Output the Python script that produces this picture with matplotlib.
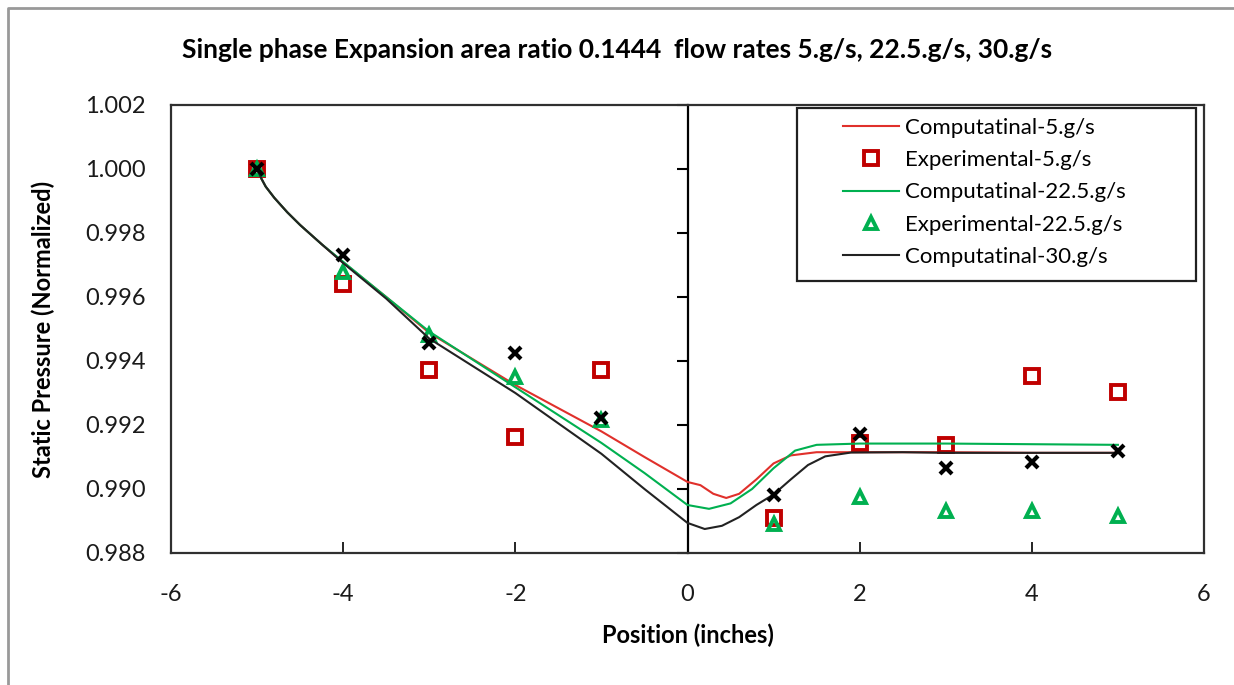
import matplotlib
matplotlib.use("Agg")
import matplotlib.pyplot as plt
from matplotlib.patches import Rectangle
from matplotlib.lines import Line2D

plt.rcParams['font.family'] = ['Lato', 'DejaVu Sans']

# experimental positions and values
exp_x = [-5, -4, -3, -2, -1, 1, 2, 3, 4, 5]
exp_5 = [1.0000, 0.99641, 0.99372, 0.99163, 0.99372, 0.98909, 0.99144, 0.99138, 0.99353, 0.99303]
exp_225 = [1.0000, 0.99678, 0.99481, 0.99350, 0.99216, 0.98890, 0.98975, 0.98931, 0.98931, 0.98916]
exp_30 = [1.0000, 0.99731, 0.99456, 0.99425, 0.99222, 0.98981, 0.99172, 0.99066, 0.99084, 0.99119]

# computational curves
comp5_x = [-5, -4.95, -4.9, -4.8, -4.65, -4.5, -4.25, -4, -3.5, -3, -2, -1, -0.5, 0, 0.15,
           0.3, 0.45, 0.6, 0.8, 1.0, 1.2, 1.5, 2, 3, 4, 5]
comp5_y = [1.0000, 0.99970, 0.99945, 0.99910, 0.99865, 0.99825, 0.99765, 0.99708, 0.99600,
           0.99488, 0.99325, 0.99180, 0.99100, 0.99022, 0.99012, 0.98985, 0.98972, 0.98985,
           0.99030, 0.99080, 0.99105, 0.99115, 0.99115, 0.99115, 0.99113, 0.99113]

comp225_x = [-5, -4.95, -4.9, -4.8, -4.65, -4.5, -4.25, -4, -3.5, -3, -2, -1, -0.5, 0, 0.25,
             0.5, 0.75, 1.0, 1.25, 1.5, 2, 3, 4, 5]
comp225_y = [1.0000, 0.99970, 0.99945, 0.99910, 0.99865, 0.99825, 0.99765, 0.99710, 0.99600,
             0.99492, 0.99318, 0.99144, 0.99050, 0.98950, 0.98938, 0.98955, 0.99000, 0.99065,
             0.99120, 0.99138, 0.99142, 0.99142, 0.99140, 0.99138]

comp30_x = [-5, -4.95, -4.9, -4.8, -4.65, -4.5, -4.25, -4, -3.5, -3, -2, -1, -0.5, 0, 0.2,
            0.4, 0.6, 0.8, 1.0, 1.2, 1.4, 1.6, 1.9, 2.5, 3, 4, 5]
comp30_y = [1.0000, 0.99970, 0.99945, 0.99910, 0.99865, 0.99825, 0.99765, 0.99706, 0.99595,
            0.99470, 0.99300, 0.99110, 0.99000, 0.98894, 0.98875, 0.98885, 0.98912, 0.98950,
            0.98983, 0.99030, 0.99075, 0.99102, 0.99114, 0.99115, 0.99113, 0.99113, 0.99113]

x_ticks = [-6, -4, -2, 0, 2, 4, 6]
y_ticks = [0.988, 0.990, 0.992, 0.994, 0.996, 0.998, 1.000, 1.002]

W, H = 1234, 685
fig = plt.figure(figsize=(W / 100, H / 100), dpi=100)
ax = fig.add_axes([171 / W, 1 - 553 / H, (1204 - 171) / W, (553 - 105) / H])

red_line = '#E0302B'
red_mk = '#C00000'
green = '#00B050'

ax.plot(comp5_x, comp5_y, color=red_line, lw=1.5, label='Computatinal-5.g/s', zorder=3)
ax.plot(exp_x, exp_5, ls='none', marker='s', ms=10.5, mfc='none', mec=red_mk, mew=2.8,
        label='Experimental-5.g/s', zorder=4)
ax.plot(comp225_x, comp225_y, color=green, lw=1.5, label='Computatinal-22.5.g/s', zorder=5)
ax.plot(exp_x, exp_225, ls='none', marker='^', ms=9, mfc='none', mec=green, mew=2.8,
        label='Experimental-22.5.g/s', zorder=6)
ax.plot(comp30_x, comp30_y, color='#222222', lw=1.5, label='Computatinal-30.g/s', zorder=7)
ax.plot(exp_x, exp_30, ls='none', marker='x', ms=9, mec='black', mew=3, zorder=8,
        label='_nolegend_')

ax.set_xlim(-6, 6)
ax.set_ylim(0.988, 1.002)
ax.set_xticks(x_ticks)
ax.set_xticklabels([str(t) for t in x_ticks])
ax.set_yticks(y_ticks)
ax.set_yticklabels(['%.3f' % t for t in y_ticks])
ax.tick_params(axis='x', direction='in', length=8, width=1.2, pad=22, labelsize=17,
               top=False, labelcolor='#1a1a1a')
ax.tick_params(axis='y', length=0, pad=18, labelsize=17, labelcolor='#1a1a1a')
for s in ax.spines.values():
    s.set_color('#303030')
    s.set_linewidth(1.6)

# vertical axis crossing at x = 0
sec = ax.secondary_yaxis(0.5)
sec.set_yticks(y_ticks)
sec.tick_params(direction='in', length=8, width=1.5, labelleft=False, labelright=False,
                color='black')
for s in sec.spines.values():
    s.set_linewidth(1.6)
    s.set_color('black')

ax.set_xlabel('Position (inches)', fontsize=17, fontweight='bold', labelpad=14)
ax.set_ylabel('Static Pressure (Normalized)', fontsize=17, fontweight='bold', labelpad=22)
fig.text(0.5, 1 - 50 / H, 'Single phase Expansion area ratio 0.1444  flow rates 5.g/s, 22.5.g/s, 30.g/s',
         ha='center', va='center', fontsize=19, fontweight='bold')

leg = ax.legend(loc='upper left', bbox_to_anchor=((843 - 171) / 1033, (553 - 118) / 448),
                frameon=False, borderpad=0, borderaxespad=0, fontsize=16,
                handlelength=2.5, handletextpad=0.3, labelspacing=0.55)
ax.add_patch(Rectangle(((797 - 171) / 1033, (553 - 281) / 448), (1196 - 797) / 1033, (281 - 108) / 448,
                       transform=ax.transAxes, fill=False, ec='#202020', lw=1.6, zorder=10,
                       clip_on=False))

# outer chart border (only left and top edges are inside the picture)
fig.lines.append(Line2D([8 / W, 8 / W, 1.0], [0.0, 1 - 8 / H, 1 - 8 / H],
                        transform=fig.transFigure, color='#999999', lw=2))

fig.savefig('out.png', dpi=100)
